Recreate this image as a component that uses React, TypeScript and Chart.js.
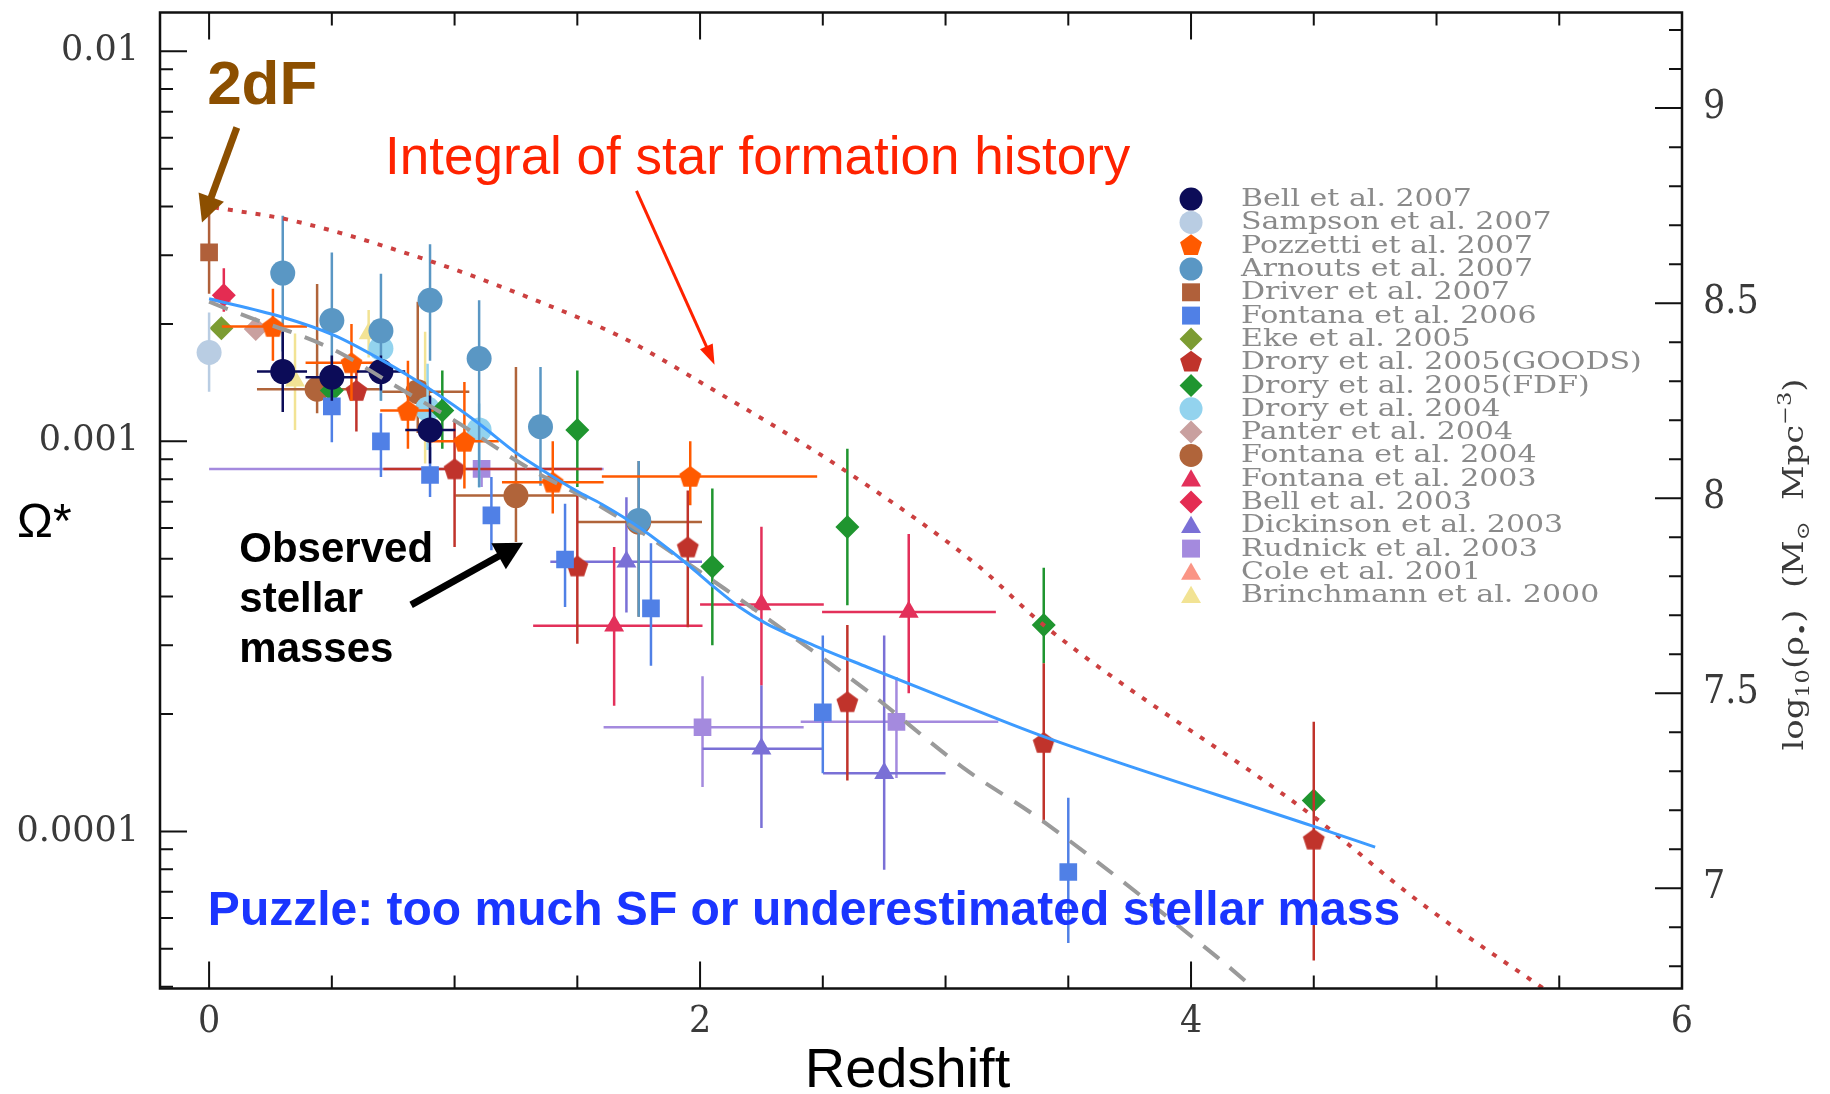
import React, { useEffect, useRef } from 'react';
import { Chart, registerables } from 'chart.js';

Chart.register(...registerables);

// Each point: [redshift, Omega*, zLow, zHigh, OmegaLow, OmegaHigh]
type Pt = [number, number, number | null, number | null, number | null, number | null];

const bell2007: Pt[] = [
  [0.30, 0.00151, 0.195, 0.399, 0.00119, 0.00191],
  [0.50, 0.00146, 0.393, 0.602, 0.00127, 0.00166],
  [0.70, 0.00151, 0.602, 0.799, 0.00135, 0.00166],
  [0.90, 0.00107, 0.799, 1.003, 0.000877, 0.00131],
];
const sampson2007: Pt[] = [[0.0, 0.00169, null, null, 0.00134, 0.00214]];
const pozzetti2007: Pt[] = [
  [0.26, 0.00197, 0.052, 0.399, 0.00161, 0.00246],
  [0.58, 0.00159, 0.393, 0.697, 0.00127, 0.00200],
  [0.81, 0.00120, 0.697, 0.915, 0.000957, 0.00161],
  [1.04, 0.00100, 0.890, 1.180, 0.000757, 0.00142],
  [1.40, 0.000786, 1.193, 1.607, 0.000653, 0.00100],
  [1.96, 0.000813, 1.600, 2.477, 0.000686, 0.00100],
];
const arnouts2007: Pt[] = [
  [0.30, 0.00270, null, null, 0.00170, 0.00379],
  [0.50, 0.00204, null, null, 0.00149, 0.00305],
  [0.70, 0.00192, null, null, 0.00127, 0.00269],
  [0.90, 0.00230, null, null, 0.00161, 0.00320],
  [1.10, 0.00163, null, null, 0.000764, 0.00230],
  [1.35, 0.00109, null, null, 0.000770, 0.00155],
  [1.75, 0.000627, null, null, 0.000355, 0.000890],
];
const driver2007: Pt[] = [[0.0, 0.00305, null, null, 0.00239, 0.00384]];
const fontana2006: Pt[] = [
  [0.50, 0.00123, null, null, 0.000995, 0.00138],
  [0.70, 0.00100, null, null, 0.00081, 0.00118],
  [0.90, 0.00082, null, null, 0.00072, 0.000966],
  [1.15, 0.000646, null, null, 0.000526, 0.00081],
  [1.45, 0.000498, null, null, 0.000376, 0.000692],
  [1.80, 0.000373, null, null, 0.000266, 0.000548],
  [2.50, 0.000202, null, null, 0.000141, 0.000318],
  [3.50, 0.0000787, null, null, 0.0000518, 0.000122],
];
const eke2005: Pt[] = [[0.05, 0.00195, null, null, null, null]];
const droryGoods2005: Pt[] = [
  [0.60, 0.00135, null, null, 0.00106, 0.00159],
  [1.00, 0.00085, 0.71, 1.60, 0.000536, 0.00114],
  [1.50, 0.000479, null, null, 0.000303, 0.000726],
  [1.95, 0.000536, null, null, 0.000334, 0.000748],
  [2.60, 0.000215, null, null, 0.000135, 0.000338],
  [3.40, 0.000169, null, null, 0.000105, 0.000270],
  [4.50, 0.0000955, null, null, 0.0000467, 0.000191],
];
const droryFdf2005: Pt[] = [
  [0.50, 0.00135, null, null, null, null],
  [0.95, 0.00120, null, null, 0.000958, 0.00152],
  [1.50, 0.00107, null, null, 0.000764, 0.00152],
  [2.05, 0.000478, null, null, 0.000300, 0.000757],
  [2.60, 0.000603, null, null, 0.000380, 0.000958],
  [3.40, 0.000338, null, null, 0.000270, 0.000474],
  [4.50, 0.000120, null, null, null, null],
];
const drory2004: Pt[] = [
  [0.70, 0.00173, null, null, 0.00127, 0.00180],
  [0.89, 0.00121, null, null, 0.00095, 0.00158],
  [1.10, 0.00107, null, null, 0.00076, 0.00125],
];
const panter2004: Pt[] = [[0.19, 0.00194, null, null, null, null]];
const fontana2004: Pt[] = [
  [0.44, 0.00136, 0.195, 0.697, 0.00118, 0.00253],
  [0.85, 0.00134, 0.697, 1.060, 0.00105, 0.00228],
  [1.25, 0.000726, 1.003, 1.499, 0.000552, 0.00155],
  [1.75, 0.000621, 1.500, 2.008, 0.000355, 0.000890],
];
const fontana2003: Pt[] = [
  [1.65, 0.000337, 1.32, 2.01, 0.000210, 0.000536],
  [2.25, 0.000382, 2.00, 2.504, 0.000237, 0.000604],
  [2.85, 0.000365, 2.497, 3.205, 0.000226, 0.000579],
];
const bell2003: Pt[] = [[0.06, 0.00237, null, null, 0.00215, 0.00278]];
const dickinson2003: Pt[] = [
  [1.70, 0.000491, 1.39, 2.008, 0.000364, 0.000719],
  [2.25, 0.000163, 2.01, 2.497, 0.000102, 0.000237],
  [2.75, 0.000141, 2.501, 3.00, 0.0000798, 0.000318],
];
const rudnick2003: Pt[] = [
  [1.11, 0.00085, 0.0, 1.607, 0.000764, 0.000894],
  [2.01, 0.000185, 1.607, 2.422, 0.000130, 0.000250],
  [2.80, 0.000191, 2.41, 3.215, 0.000137, 0.000249],
];
const cole2001: Pt[] = [[0.05, 0.00235, null, null, null, null]];
const brinchmann2000: Pt[] = [
  [0.35, 0.00143, null, null, 0.00107, 0.00189],
  [0.65, 0.00189, null, null, 0.00164, 0.00217],
  [0.88, 0.00130, null, null, 0.000877, 0.00191],
];

const SERIES_LABELS = [
  'Bell et al. 2007', 'Sampson et al. 2007', 'Pozzetti et al. 2007', 'Arnouts et al. 2007',
  'Driver et al. 2007', 'Fontana et al. 2006', 'Eke et al. 2005', 'Drory et al. 2005(GOODS)',
  'Drory et al. 2005(FDF)', 'Drory et al. 2004', 'Panter et al. 2004', 'Fontana et al. 2004',
  'Fontana et al. 2003', 'Bell et al. 2003', 'Dickinson et al. 2003', 'Rudnick et al. 2003',
  'Cole et al. 2001', 'Brinchmann et al. 2000',
];
const SERIES_DATA = [
  bell2007, sampson2007, pozzetti2007, arnouts2007, driver2007, fontana2006, eke2005,
  droryGoods2005, droryFdf2005, drory2004, panter2004, fontana2004, fontana2003, bell2003,
  dickinson2003, rudnick2003, cole2001, brinchmann2000,
];
const SERIES_COLORS = [
  '#0c0c58', '#b9cde3', '#ff5a00', '#5a97c4', '#b0603a', '#5080e6', '#7c9c32', '#c0332b',
  '#1f952f', '#93d3ee', '#c9a09f', '#b0643a', '#e3305a', '#e42c52', '#7a70d6', '#a48ade',
  '#fa9585', '#f2e394',
];
const SERIES_SHAPES = [
  'circle', 'circle', 'pentagon', 'circle', 'rect', 'rect', 'rectRot', 'pentagon',
  'rectRot', 'circle', 'rectRot', 'circle', 'triangle', 'rectRot', 'triangle', 'rect',
  'triangle', 'triangle',
];

// Curves: [redshift, Omega*]
const sfhIntegral: [number, number][] = [
  [0.02, 0.00398], [0.34, 0.00368], [0.9, 0.0029], [1.3, 0.00234], [1.68, 0.00185],
  [2.0, 0.00142], [2.6, 0.000834], [3.13, 0.000481], [3.4, 0.000338], [4.5, 0.000109],
  [4.92, 0.0000667], [5.5, 0.0000371],
];
const modelFit: [number, number][] = [
  [0, 0.00232], [0.29, 0.00209], [0.51, 0.00187], [0.7, 0.00162], [0.9, 0.00136], [1.1, 0.00111],
  [1.25, 0.000935], [1.35, 0.00085], [1.5, 0.000745], [1.6, 0.00069], [1.76, 0.000597],
  [1.93, 0.000495], [2.04, 0.000432], [2.16, 0.000376], [2.27, 0.000341], [2.48, 0.000297],
  [2.68, 0.000264], [2.95, 0.000226], [3.4, 0.000175], [4.5, 0.000103], [4.75, 0.0000912],
];
const modelDashed: [number, number][] = [
  [0, 0.00228], [0.18, 0.00206], [0.37, 0.00187], [0.53, 0.00169], [0.74, 0.00141], [1.0, 0.00113],
  [1.3, 0.000855], [1.6, 0.000678], [2.1, 0.000419], [2.38, 0.000315], [2.67, 0.000232],
  [3.07, 0.000146], [3.39, 0.000107], [4.11, 0.0000474], [4.3, 0.0000375],
];

// Axes
const X_MIN = -0.2;
const X_MAX = 6;
const Y_MIN = 3.957e-5;
const Y_MAX = 0.012573;
const RHO_OFFSET = 11.1457; // log10(rho*) = log10(Omega*) + offset
const X_TICKS = [0, 2, 4, 6];
const X_TICK_LABELS = ['0', '2', '4', '6'];
const X_MINOR = [0.5, 1, 1.5, 2.5, 3, 3.5, 4.5, 5, 5.5];
const Y_TICKS = [0.0001, 0.001, 0.01];
const Y_TICK_LABELS = ['0.0001', '0.001', '0.01'];
const Y_MINOR = [
  0.00004, 0.00005, 0.00006, 0.00007, 0.00008, 0.00009,
  0.0002, 0.0003, 0.0004, 0.0005, 0.0006, 0.0007, 0.0008, 0.0009,
  0.002, 0.003, 0.004, 0.005, 0.006, 0.007, 0.008, 0.009,
];
const R_TICKS = [7, 7.5, 8, 8.5, 9];
const R_TICK_LABELS = ['7', '7.5', '8', '8.5', '9'];
const R_MINOR = [6.8, 6.9, 7.1, 7.2, 7.3, 7.4, 7.6, 7.7, 7.8, 7.9, 8.1, 8.2, 8.3, 8.4, 8.6, 8.7, 8.8, 8.9, 9.1, 9.2];

const MARKER_R: Record<string, number> = { circle: 12.5, rect: 12.5, rectRot: 12, triangle: 11.5, pentagon: 11.5 };
const SERIF = '"DejaVu Serif", "Liberation Serif", serif';

function drawMarker(ctx: CanvasRenderingContext2D, shape: string, x: number, y: number, r: number, color: string) {
  ctx.fillStyle = color;
  ctx.beginPath();
  if (shape === 'circle') {
    ctx.arc(x, y, r, 0, Math.PI * 2);
  } else if (shape === 'rect') {
    const h = r * Math.SQRT1_2;
    ctx.rect(x - h, y - h, 2 * h, 2 * h);
  } else if (shape === 'rectRot') {
    ctx.moveTo(x, y - r); ctx.lineTo(x + r, y); ctx.lineTo(x, y + r); ctx.lineTo(x - r, y); ctx.closePath();
  } else {
    const n = shape === 'triangle' ? 3 : 5;
    for (let k = 0; k < n; k++) {
      const a = -Math.PI / 2 + (k * 2 * Math.PI) / n;
      const px = x + Math.cos(a) * r, py = y + Math.sin(a) * r;
      if (k === 0) ctx.moveTo(px, py); else ctx.lineTo(px, py);
    }
    ctx.closePath();
  }
  ctx.fill();
}

function pentagonImage(color: string, r: number) {
  const c = document.createElement('canvas');
  const s = Math.ceil(2 * r + 2);
  c.width = s; c.height = s;
  const g = c.getContext('2d')!;
  drawMarker(g, 'pentagon', s / 2, s / 2 + 1, r, color);
  return c;
}

function scaledText(ctx: CanvasRenderingContext2D, text: string, x: number, y: number, font: string, align: CanvasTextAlign, vscale: number, color: string) {
  ctx.save();
  ctx.translate(x, y);
  ctx.scale(1, vscale);
  ctx.font = font;
  ctx.textAlign = align;
  ctx.textBaseline = 'middle';
  ctx.fillStyle = color;
  ctx.fillText(text, 0, 0);
  ctx.restore();
}

function arrow(ctx: CanvasRenderingContext2D, x1: number, y1: number, x2: number, y2: number, w: number, hl: number, hw: number, color: string) {
  const dx = x2 - x1, dy = y2 - y1;
  const L = Math.hypot(dx, dy);
  const ux = dx / L, uy = dy / L;
  const bx = x2 - ux * hl, by = y2 - uy * hl;
  ctx.save();
  ctx.strokeStyle = color; ctx.fillStyle = color; ctx.lineWidth = w; ctx.lineCap = 'butt';
  ctx.beginPath(); ctx.moveTo(x1, y1); ctx.lineTo(bx + ux * 2, by + uy * 2); ctx.stroke();
  ctx.beginPath();
  ctx.moveTo(x2, y2);
  ctx.lineTo(bx - uy * hw / 2, by + ux * hw / 2);
  ctx.lineTo(bx + uy * hw / 2, by - ux * hw / 2);
  ctx.closePath(); ctx.fill();
  ctx.restore();
}

const errorBarPlugin = {
  id: 'errorBars',
  beforeDatasetDraw(chart: any, args: any) {
    const ds = chart.data.datasets[args.index];
    if (!ds._err) return;
    const { ctx, chartArea: a } = chart;
    const xs = chart.scales.x, ys = chart.scales.y;
    ctx.save();
    ctx.beginPath(); ctx.rect(a.left, a.top, a.right - a.left, a.bottom - a.top); ctx.clip();
    ctx.strokeStyle = ds._color; ctx.lineWidth = 2.5;
    ctx.beginPath();
    ds.data.forEach((d: any) => {
      const e: Pt = d.err;
      const px = xs.getPixelForValue(e[0]), py = ys.getPixelForValue(e[1]);
      if (e[2] != null && e[3] != null) { ctx.moveTo(xs.getPixelForValue(e[2]), py); ctx.lineTo(xs.getPixelForValue(e[3]), py); }
      if (e[4] != null && e[5] != null) { ctx.moveTo(px, ys.getPixelForValue(e[4])); ctx.lineTo(px, ys.getPixelForValue(e[5])); }
    });
    ctx.stroke();
    ctx.restore();
  },
};

const decorPlugin = {
  id: 'decor',
  afterDraw(chart: any) {
    const { ctx, chartArea: a } = chart;
    const xs = chart.scales.x, ys = chart.scales.y, rs = chart.scales.y2;
    ctx.save();
    // ticks
    ctx.strokeStyle = '#111'; ctx.lineWidth = 2;
    ctx.beginPath();
    const seg = (x1: number, y1: number, x2: number, y2: number) => { ctx.moveTo(x1, y1); ctx.lineTo(x2, y2); };
    X_TICKS.forEach(v => { const p = xs.getPixelForValue(v); seg(p, a.bottom, p, a.bottom - 27); seg(p, a.top, p, a.top + 27); });
    X_MINOR.forEach(v => { const p = xs.getPixelForValue(v); seg(p, a.bottom, p, a.bottom - 13); seg(p, a.top, p, a.top + 13); });
    Y_TICKS.forEach(v => { const p = ys.getPixelForValue(v); seg(a.left, p, a.left + 27, p); });
    Y_MINOR.forEach(v => { const p = ys.getPixelForValue(v); seg(a.left, p, a.left + 13, p); });
    R_TICKS.forEach(v => { const p = rs.getPixelForValue(v); seg(a.right, p, a.right - 27, p); });
    R_MINOR.forEach(v => { const p = rs.getPixelForValue(v); seg(a.right, p, a.right - 13, p); });
    ctx.stroke();
    ctx.lineWidth = 2.5;
    ctx.strokeRect(a.left, a.top, a.right - a.left, a.bottom - a.top);

    // tick labels
    const tickFont = `35px ${SERIF}`;
    X_TICKS.forEach((v, i) => scaledText(ctx, X_TICK_LABELS[i], xs.getPixelForValue(v), a.bottom + 34, tickFont, 'center', 1.05, '#3a3a3a'));
    Y_TICKS.forEach((v, i) => scaledText(ctx, Y_TICK_LABELS[i], a.left - 21, ys.getPixelForValue(v), tickFont, 'right', 1.0, '#3a3a3a'));
    R_TICKS.forEach((v, i) => scaledText(ctx, R_TICK_LABELS[i], a.right + 21, rs.getPixelForValue(v), tickFont, 'left', 1.1, '#3a3a3a'));

    // axis titles
    ctx.fillStyle = '#000';
    ctx.font = '56px "Liberation Sans", Arial, sans-serif';
    ctx.textAlign = 'center'; ctx.textBaseline = 'alphabetic';
    ctx.fillText('Redshift', xs.getPixelForValue(2.845), a.bottom + 98);
    ctx.font = '48px "Liberation Sans", Arial, sans-serif';
    ctx.textAlign = 'left';
    ctx.fillText('Ω*', 17, ys.getPixelForValue(0.000567));

    // right title (rotated, with sub/superscripts)
    const parts: [string, number][] = [['log', 0], ['10', 1], ['(ρ', 0], ['•', 1], [')  (M', 0], ['⊙', 1], ['  Mpc', 0], ['−3', -1], [')', 0]];
    const big = `27px ${SERIF}`;
    const small = `18px ${SERIF}`;
    let total = 0;
    parts.forEach(([t, s]) => { ctx.font = s === 0 ? big : small; total += ctx.measureText(t).width; });
    const targetLen = 372;
    ctx.save();
    ctx.translate(a.right + 111, rs.getPixelForValue(7.83));
    ctx.rotate(-Math.PI / 2);
    ctx.scale(targetLen / total, 1);
    ctx.fillStyle = '#3a3a3a';
    ctx.textBaseline = 'alphabetic';
    ctx.textAlign = 'left';
    let cx = -total / 2;
    parts.forEach(([t, s]) => {
      ctx.font = s === 0 ? big : small;
      ctx.fillText(t, cx, 10 + (s === 1 ? 6 : s === -1 ? -12 : 0));
      cx += ctx.measureText(t).width;
    });
    ctx.restore();

    // legend
    const lx = xs.getPixelForValue(4.0);
    const ly0 = ys.getPixelForValue(0.004179);
    SERIES_LABELS.forEach((lab, i) => {
      const yy = ly0 + i * 23.3;
      const sh = SERIES_SHAPES[i];
      drawMarker(ctx, sh, lx, yy + (sh === 'triangle' ? 2 : 0), sh === 'rect' ? 12.7 : 11.5, SERIES_COLORS[i]);
      scaledText(ctx, lab, lx + 50, yy + 1, `30px ${SERIF}`, 'left', 0.78, '#8a8a8a');
    });

    // annotations
    ctx.textAlign = 'left'; ctx.textBaseline = 'alphabetic';
    ctx.fillStyle = '#8c4f00';
    ctx.font = 'bold 62px "Liberation Sans", Arial, sans-serif';
    ctx.fillText('2dF', xs.getPixelForValue(-0.008), ys.getPixelForValue(0.00734));
    arrow(ctx, xs.getPixelForValue(0.113), ys.getPixelForValue(0.00638), xs.getPixelForValue(-0.029), ys.getPixelForValue(0.00364), 7, 27, 27, '#8c4f00');

    ctx.fillStyle = '#ff2200';
    ctx.font = '53px "Liberation Sans", Arial, sans-serif';
    ctx.fillText('Integral of star formation history', xs.getPixelForValue(0.717), ys.getPixelForValue(0.004845));
    arrow(ctx, xs.getPixelForValue(1.741), ys.getPixelForValue(0.004386), xs.getPixelForValue(2.059), ys.getPixelForValue(0.001573), 3, 20, 14, '#ff2200');

    ctx.fillStyle = '#000';
    ctx.font = 'bold 42px "Liberation Sans", Arial, sans-serif';
    ctx.fillText('Observed', xs.getPixelForValue(0.123), ys.getPixelForValue(0.000490));
    ctx.fillText('stellar', xs.getPixelForValue(0.123), ys.getPixelForValue(0.000365));
    ctx.fillText('masses', xs.getPixelForValue(0.123), ys.getPixelForValue(0.000272));
    arrow(ctx, xs.getPixelForValue(0.823), ys.getPixelForValue(0.000381), xs.getPixelForValue(1.279), ys.getPixelForValue(0.00055), 7, 28, 30, '#000');

    ctx.fillStyle = '#1a35ff';
    ctx.font = 'bold 48px "Liberation Sans", Arial, sans-serif';
    ctx.fillText('Puzzle: too much SF or underestimated stellar mass', xs.getPixelForValue(-0.005), ys.getPixelForValue(5.74e-5));
    ctx.restore();
  },
};

export default function App() {
  const ref = useRef<HTMLCanvasElement>(null);
  useEffect(() => {
    const canvas = ref.current;
    if (!canvas) return;
    const toXY = (arr: [number, number][]) => arr.map(([x, y]) => ({ x, y }));
    const lineSets: any[] = [
      { data: toXY(modelFit), showLine: true, borderColor: '#3d9bff', borderWidth: 3, pointRadius: 0, cubicInterpolationMode: 'monotone' },
      { data: toXY(sfhIntegral), showLine: true, borderColor: '#cc4040', borderWidth: 4, borderDash: [5, 9], pointRadius: 0, cubicInterpolationMode: 'monotone' },
      { data: toXY(modelDashed), showLine: true, borderColor: '#9a9a9a', borderWidth: 4, borderDash: [20, 14], pointRadius: 0, cubicInterpolationMode: 'monotone' },
    ];
    const pointSets: any[] = SERIES_DATA.map((pts, i) => {
      const sh = SERIES_SHAPES[i];
      const col = SERIES_COLORS[i];
      return {
        label: SERIES_LABELS[i],
        data: pts.map(p => ({ x: p[0], y: p[1], err: p })),
        showLine: false,
        pointStyle: sh === 'pentagon' ? pentagonImage(col, MARKER_R.pentagon) : sh,
        pointRadius: MARKER_R[sh],
        pointHoverRadius: MARKER_R[sh],
        pointBackgroundColor: col,
        pointBorderColor: col,
        pointBorderWidth: 0,
        backgroundColor: col,
        borderColor: col,
        _err: true,
        _color: col,
      };
    });
    const hiddenTicks = { display: false };
    const chart = new Chart(canvas, {
      type: 'scatter',
      data: { datasets: [...lineSets, ...pointSets] },
      options: {
        animation: false,
        responsive: false,
        devicePixelRatio: 1,
        events: [],
        layout: { padding: { top: 11.7, left: 0, right: 0, bottom: 0 } },
        plugins: { legend: { display: false }, tooltip: { enabled: false } },
        scales: {
          x: {
            type: 'linear', position: 'bottom', min: X_MIN, max: X_MAX,
            grid: { display: false, drawTicks: false }, border: { display: false }, ticks: hiddenTicks,
            afterBuildTicks: (s: any) => { s.ticks = X_TICKS.map(v => ({ value: v })); },
            afterFit: (s: any) => { s.height = 105.5; },
          },
          y: {
            type: 'logarithmic', position: 'left', min: Y_MIN, max: Y_MAX,
            grid: { display: false, drawTicks: false }, border: { display: false }, ticks: hiddenTicks,
            afterBuildTicks: (s: any) => { s.ticks = Y_TICKS.map(v => ({ value: v })); },
            afterFit: (s: any) => { s.width = 160; },
          },
          y2: {
            type: 'linear', position: 'right',
            min: Math.log10(Y_MIN) + RHO_OFFSET, max: Math.log10(Y_MAX) + RHO_OFFSET,
            grid: { display: false, drawTicks: false }, border: { display: false }, ticks: hiddenTicks,
            afterBuildTicks: (s: any) => { s.ticks = R_TICKS.map(v => ({ value: v })); },
            afterFit: (s: any) => { s.width = 148; },
          },
        },
      } as any,
      plugins: [errorBarPlugin, decorPlugin],
    });
    return () => chart.destroy();
  }, []);
  return (
    <div style={{ position: 'absolute', left: 0, top: 0, width: 1830, height: 1094, background: '#fff' }}>
      <canvas ref={ref} width={1830} height={1094} style={{ display: 'block' }} />
    </div>
  );
}
